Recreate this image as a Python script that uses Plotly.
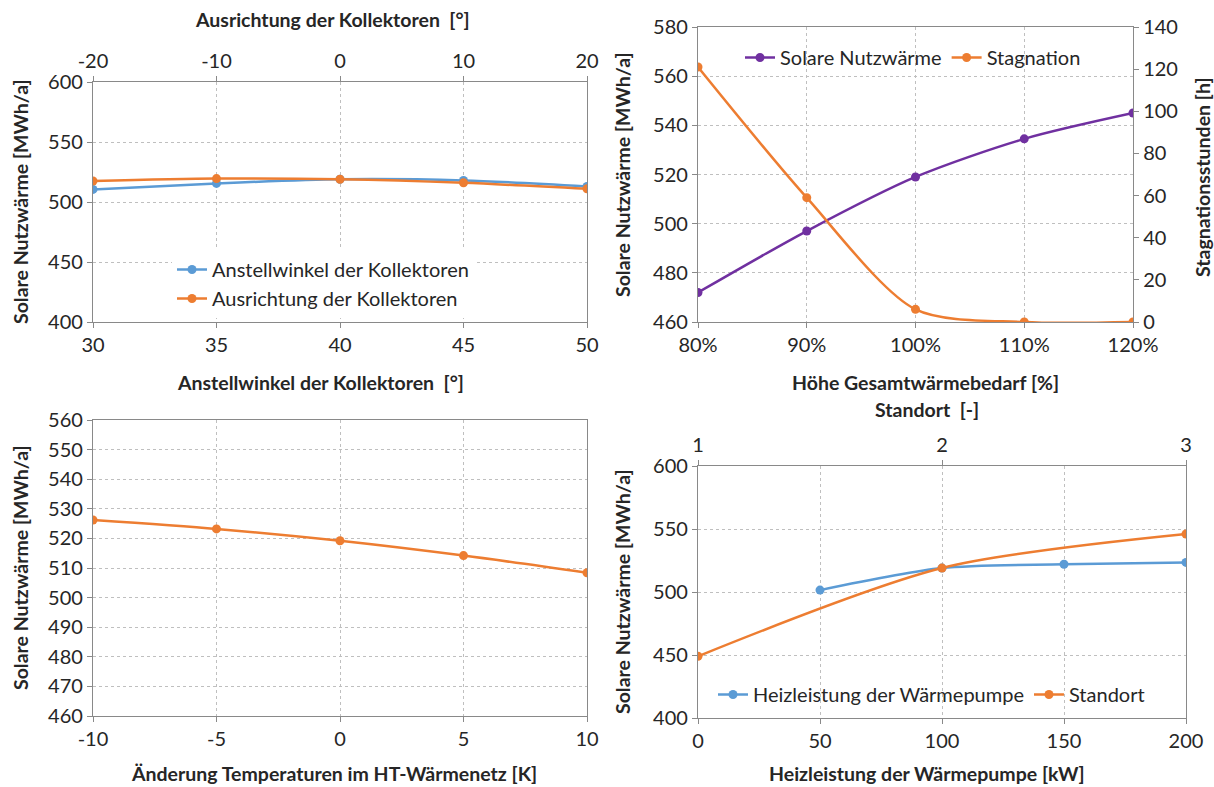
import plotly.graph_objects as go

# ---------------- data ----------------
anstellwinkel = [30, 35, 40, 45, 50]
anstell_werte = [510.5, 515.5, 519.0, 518.0, 513.0]
ausrichtung = [-20, -10, 0, 10, 20]
ausricht_werte = [517.5, 519.5, 519.0, 516.0, 511.0]

bedarf = [80, 90, 100, 110, 120]
bedarf_nutzwaerme = [472.0, 497.0, 519.0, 534.5, 545.0]
bedarf_stagnation = [121.0, 59.0, 6.0, 0.0, 0.0]

temp_aenderung = [-10, -5, 0, 5, 10]
temp_werte = [526.2, 523.2, 519.2, 514.2, 508.4]

heizleistung = [50, 100, 150, 200]
heiz_werte = [501.5, 519.0, 522.0, 523.5]
standort = [1, 2, 3]
standort_werte = [449.0, 519.0, 546.0]

# tick values
ticks_p1_bottom = [30, 35, 40, 45, 50]
ticks_p1_top = [-20, -10, 0, 10, 20]
ticks_p1_y = [400, 450, 500, 550, 600]
ticks_p2_x = [80, 90, 100, 110, 120]
ticks_p2_y = [460, 480, 500, 520, 540, 560, 580]
ticks_p2_y2 = [0, 20, 40, 60, 80, 100, 120, 140]
ticks_p3_x = [-10, -5, 0, 5, 10]
ticks_p3_y = [460, 470, 480, 490, 500, 510, 520, 530, 540, 550, 560]
ticks_p4_bottom = [0, 50, 100, 150, 200]
ticks_p4_top = [1, 2, 3]
ticks_p4_y = [400, 450, 500, 550, 600]

# ---------------- style ----------------
W, H = 1214, 787
BLUE = "#5B9BD5"
ORANGE = "#ED7D31"
PURPLE = "#7030A0"
FONT = "Lato"
TXT = "#262626"
GRID = "#BFBFBF"
AXL = "#898989"
TICKSIZE = 20
TITLESIZE = 19.5


def px_x(p):
    return p / W


def px_y(p):
    return 1 - p / H


def line_trace(x, y, color, name, xa, ya, legend):
    return go.Scatter(
        x=x, y=y, name=name, xaxis=xa, yaxis=ya, legend=legend,
        mode="lines+markers", line=dict(color=color, width=2.5, shape="spline", smoothing=0.8),
        marker=dict(color=color, size=9), cliponaxis=True,
    )


fig = go.Figure()
fig.add_trace(line_trace(anstellwinkel, anstell_werte, BLUE, "Anstellwinkel der Kollektoren", "x", "y", "legend"))
fig.add_trace(line_trace(ausrichtung, ausricht_werte, ORANGE, "Ausrichtung der Kollektoren", "x2", "y", "legend"))
fig.add_trace(line_trace(bedarf, bedarf_nutzwaerme, PURPLE, "Solare Nutzwärme", "x3", "y2", "legend2"))
fig.add_trace(line_trace(bedarf, bedarf_stagnation, ORANGE, "Stagnation", "x3", "y3", "legend2"))
fig.add_trace(line_trace(temp_aenderung, temp_werte, ORANGE, "Temperatur", "x4", "y4", "legend"))
fig.data[-1].showlegend = False
fig.add_trace(line_trace(heizleistung, heiz_werte, BLUE, "Heizleistung der Wärmepumpe", "x5", "y5", "legend3"))
fig.add_trace(line_trace(standort, standort_werte, ORANGE, "Standort", "x6", "y5", "legend3"))

tickfont = dict(family=FONT, size=TICKSIZE, color=TXT)
common = dict(showline=True, linecolor=AXL, linewidth=1.3, ticks="outside", ticklen=5,
              tickcolor=AXL, tickfont=tickfont, zeroline=False, fixedrange=True, automargin=False)
gridopt = dict(showgrid=True, gridcolor=GRID, griddash="dot", gridwidth=1)


def tk(vals, suffix=""):
    return dict(tickmode="array", tickvals=vals, ticktext=[str(v) + suffix for v in vals])


# panel positions (pixels)
P1 = (93, 587, 82, 322)
P2 = (698, 1133, 27, 322)
P3 = (93, 587, 420, 716)
P4 = (698, 1186, 466, 718)


def xdom(p):
    return [px_x(p[0]), px_x(p[1])]


def ydom(p):
    return [px_y(p[3]), px_y(p[2])]


fig.update_layout(
    width=W, height=H, margin=dict(l=0, r=0, t=0, b=0, autoexpand=False),
    paper_bgcolor="white", plot_bgcolor="white",
    font=dict(family=FONT, color=TXT),
    # panel 1
    xaxis=dict(domain=xdom(P1), anchor="y", range=[30, 50], **tk(ticks_p1_bottom), **common, **gridopt),
    xaxis2=dict(overlaying="x", anchor="y", side="top", range=[-20, 20], **tk(ticks_p1_top),
                showgrid=False, **common),
    yaxis=dict(domain=ydom(P1), anchor="x", range=[400, 600], **tk(ticks_p1_y), mirror=True, **common, **gridopt),
    # panel 2
    xaxis3=dict(domain=xdom(P2), anchor="y2", range=[80, 120], **tk(ticks_p2_x, "%"), mirror=True,
                **common, **gridopt),
    yaxis2=dict(domain=ydom(P2), anchor="x3", range=[460, 580], **tk(ticks_p2_y), **common, **gridopt),
    yaxis3=dict(overlaying="y2", anchor="x3", side="right", range=[0, 140], **tk(ticks_p2_y2),
                showgrid=False, **common),
    # panel 3
    xaxis4=dict(domain=xdom(P3), anchor="y4", range=[-10, 10], **tk(ticks_p3_x), mirror=True, **common, **gridopt),
    yaxis4=dict(domain=ydom(P3), anchor="x4", range=[460, 560], **tk(ticks_p3_y), mirror=True, **common, **gridopt),
    # panel 4
    xaxis5=dict(domain=xdom(P4), anchor="y5", range=[0, 200], **tk(ticks_p4_bottom), **common, **gridopt),
    xaxis6=dict(overlaying="x5", anchor="y5", side="top", range=[1, 3], **tk(ticks_p4_top),
                showgrid=False, **common),
    yaxis5=dict(domain=ydom(P4), anchor="x5", range=[400, 600], **tk(ticks_p4_y), mirror=True, **common, **gridopt),
)

legfont = dict(family=FONT, size=TICKSIZE, color=TXT)
fig.update_layout(
    legend=dict(x=px_x(172), y=px_y(250), xanchor="left", yanchor="top", orientation="v",
                bgcolor="white", font=legfont, itemwidth=30, tracegroupgap=2),
    legend2=dict(x=px_x(740), y=px_y(38), xanchor="left", yanchor="top", orientation="h",
                 bgcolor="rgba(0,0,0,0)", font=legfont, itemwidth=30),
    legend3=dict(x=px_x(713), y=px_y(675), xanchor="left", yanchor="top", orientation="h",
                 bgcolor="rgba(0,0,0,0)", font=legfont, itemwidth=30),
)

titlefont = dict(family=FONT, size=TITLESIZE, color=TXT)


def title(text, x, y, angle=0):
    fig.add_annotation(text="<b>%s</b>" % text, x=px_x(x), y=px_y(y), xref="paper", yref="paper",
                       showarrow=False, textangle=angle, font=titlefont, xanchor="center", yanchor="middle")


title("Ausrichtung der Kollektoren&nbsp;&nbsp;[°]", 333, 20)
title("Anstellwinkel der Kollektoren&nbsp;&nbsp;[°]", 321, 382)
title("Solare Nutzwärme [MWh/a]", 20, 202, -90)
title("Solare Nutzwärme [MWh/a]", 622, 175, -90)
title("Stagnationsstunden [h]", 1203, 177, -90)
title("Höhe Gesamtwärmebedarf [%]", 926, 382)
title("Änderung Temperaturen im HT-Wärmenetz [K]", 334, 773)
title("Solare Nutzwärme [MWh/a]", 20, 568, -90)
title("Standort&nbsp;&nbsp;[-]", 927, 409)
title("Heizleistung der Wärmepumpe [kW]", 927, 773)
title("Solare Nutzwärme [MWh/a]", 622, 592, -90)

fig.write_html("out.html", config={"displayModeBar": False},
               post_script="document.body.style.margin='0';")
